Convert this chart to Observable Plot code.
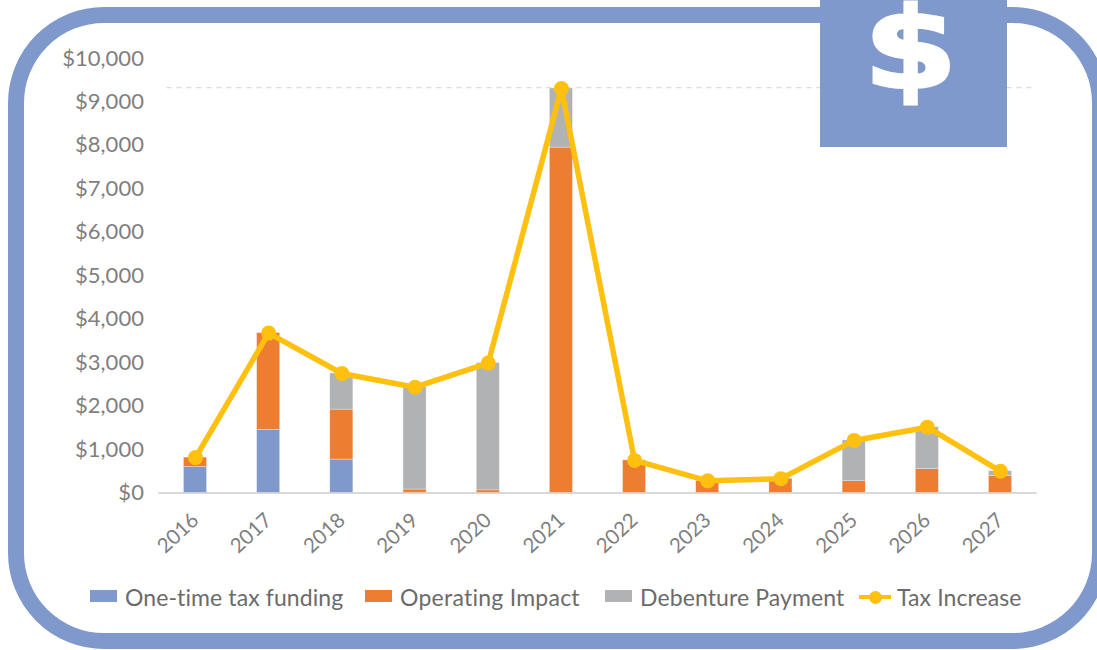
<!DOCTYPE html>
<html>
<head>
<meta charset="utf-8">
<script src="https://cdn.jsdelivr.net/npm/d3@7"></script>
<script src="https://cdn.jsdelivr.net/npm/@observablehq/plot@0.6"></script>
<style>
  html, body { margin: 0; padding: 0; background: #fff; overflow: hidden; }
  body { width: 1097px; height: 650px; position: relative; font-family: Lato, sans-serif; color: #666; }
  #frame { position: absolute; left: 8px; top: 7px; width: 1100px; height: 642px; box-sizing: border-box;
           border: 16px solid #7f99cd; border-radius: 96px; }
  #chart { position: absolute; left: 0; top: 0; }
  #chart svg { display: block; background: transparent; }
  #badge { position: absolute; left: 820px; top: 0; width: 187px; height: 147px; background: #7f99cd; overflow: hidden; }
  #badge span { position: absolute; left: -3px; width: 187px; top: -5px; height: 107px; text-align: center; color: #fff;
                font: 700 112px/107px "DejaVu Sans", sans-serif; -webkit-text-stroke: 3px #fff; transform: scaleX(1.2); }
  #legend { position: absolute; left: 0; top: 583px; width: 1097px; height: 28px; font-size: 23px; line-height: 28px; color: #6b6b6b; }
  #legend .item { position: absolute; top: 0; white-space: nowrap; letter-spacing: 0.1px; }
  #legend .sw { position: absolute; top: 7px; width: 27px; height: 12px; }
  #legend .ln { position: absolute; top: 12px; width: 32px; height: 4px; background: #ffc00f; }
  #legend .dt { position: absolute; top: 8px; width: 13px; height: 13px; border-radius: 50%; background: #ffc00f; }
</style>
</head>
<body>
<div id="chart"></div>
<div id="frame"></div>
<div id="badge"><span>$</span></div>
<div id="legend">
  <i class="sw" style="left:90px;background:#7f99cd"></i><span class="item" style="left:125px">One-time tax funding</span>
  <i class="sw" style="left:365px;background:#ed7d31"></i><span class="item" style="left:400px;letter-spacing:0.25px">Operating Impact</span>
  <i class="sw" style="left:605px;background:#b1b2b3"></i><span class="item" style="left:640px">Debenture Payment</span>
  <i class="ln" style="left:859px"></i><i class="dt" style="left:869px"></i><span class="item" style="left:897px">Tax Increase</span>
</div>
<script>
const years = ["2016","2017","2018","2019","2020","2021","2022","2023","2024","2025","2026","2027"];
const oneTime   = [595, 1455, 770, 0, 0, 0, 0, 0, 0, 0, 0, 0];
const operating = [220, 2225, 1150, 80, 60, 7950, 750, 280, 330, 270, 550, 390];
const debenture = [0, 0, 830, 2355, 2930, 1360, 0, 0, 0, 940, 965, 110];
const taxIncrease = [815, 3680, 2750, 2435, 2990, 9310, 750, 280, 330, 1210, 1515, 500];
const referenceLevel = 9330;
const seriesNames = ["One-time tax funding", "Operating Impact", "Debenture Payment"];
const seriesValues = [oneTime, operating, debenture];
const seriesColors = ["#7f99cd", "#ed7d31", "#b1b2b3"];
const yTicks = [0,1000,2000,3000,4000,5000,6000,7000,8000,9000,10000];

const rows = seriesNames.flatMap((name, s) => years.map((year, i) => ({year, name, value: seriesValues[s][i]})));
const lineRows = years.map((year, i) => ({year, value: taxIncrease[i]}));

const plot = Plot.plot({
  width: 1097,
  height: 570,
  marginLeft: 158.4,
  marginRight: 60.4,
  marginTop: 58,
  marginBottom: 77.5,
  style: {fontFamily: "Lato, sans-serif", background: "transparent"},
  x: {type: "band", domain: years, round: false, paddingInner: 0.685, paddingOuter: 0.3425, align: 0.5, label: null},
  y: {domain: [0, 10000], label: null},
  color: {domain: seriesNames, range: seriesColors},
  marks: [
    Plot.ruleY([referenceLevel], {stroke: "#dcdcdc", strokeWidth: 1.2, strokeDasharray: "5 5", insetLeft: 8}),
    Plot.ruleY([0], {stroke: "#d9d9d9", strokeWidth: 2}),
    Plot.barY(rows, {x: "year", y: "value", fill: "name", order: seriesNames, stroke: "#f0f0f0", strokeWidth: 0.4}),
    Plot.line(lineRows, {x: "year", y: "value", stroke: "#ffc00f", strokeWidth: 5.5, curve: "linear"}),
    Plot.dot(lineRows, {x: "year", y: "value", fill: "#ffc00f", r: 7.5}),
    Plot.axisY({ticks: yTicks, tickFormat: d3.format("$,.0f"), tickSize: 0, tickPadding: 15, fontSize: 22, color: "#7f7f7f", label: null}),
    Plot.axisX({tickSize: 0, tickRotate: -43, tickPadding: 24, dx: 0, fontSize: 20.5, color: "#7f7f7f", label: null})
  ]
});
document.getElementById("chart").appendChild(plot);
</script>
</body>
</html>
